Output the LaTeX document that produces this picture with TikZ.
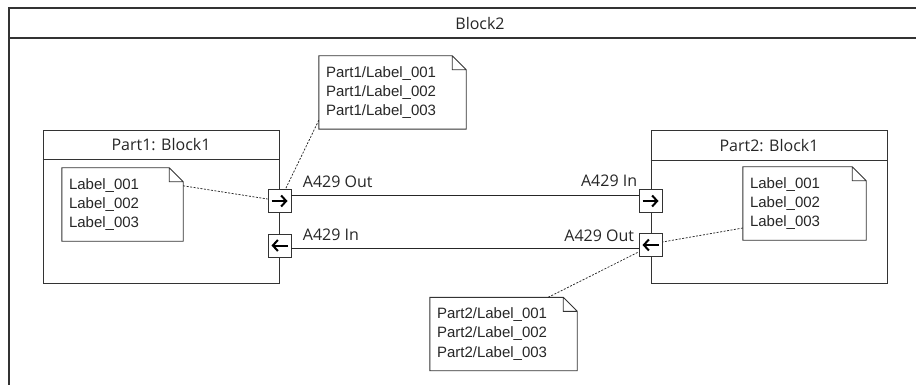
\documentclass[tikz,border=0pt]{standalone}
\usepackage{fontspec}
\setmainfont{Liberation Sans}
\newfontfamily\titlefont{Open Sans}
\usetikzlibrary{arrows.meta, positioning}

% outline of a note with a folded corner
\newcommand{\notefold}[1]{%
  \draw[box] (#1.north west) -- ([xshift=-14pt]#1.north east) -- ([yshift=-14pt]#1.north east)
    -- (#1.south east) -- (#1.south west) -- cycle
    ([xshift=-14pt]#1.north east) |- ([yshift=-14pt]#1.north east);}

\begin{document}
\begin{tikzpicture}[x=1pt, y=-1pt,
    every node/.style={text=black!85},
    box/.style={draw=black!80, line width=0.9pt},
    block/.style={box, minimum width=236pt, minimum height=153pt},
    blocktitle/.style={font=\titlefont\fontsize{16}{19}\selectfont, minimum height=30pt, anchor=north},
    note/.style={font=\fontsize{15}{19.3}\selectfont, align=left, text width=#1,
        minimum height=73pt, inner xsep=7pt, inner ysep=0pt},
    port/.style={box, fill=white, minimum size=23pt, inner sep=0pt},
    portarrow/.style={line width=2pt, -{Straight Barb[length=5pt, width=11pt]}},
    flow/.style={draw=black!85, line width=0.9pt},
    flowlabel/.style={font=\titlefont\fontsize{16}{19}\selectfont, inner sep=0pt},
    link/.style={black!85, line width=0.75pt, dash pattern=on 2pt off 1.5pt}]
    \useasboundingbox (0,0) rectangle (916,385);
    \clip (0,0) rectangle (916,385);

    % Outer block
    \draw[box, line width=1.3pt] (9,8) rectangle (940,400);
    \node[blocktitle, minimum height=30pt] (block2) at (480,8) {Block2};
    \draw[box, line width=1.3pt] (9,38) -- (940,38);

    % Parts
    \node[block] (part1) at (161,206.5) {};
    \node[blocktitle] (part1title) at (part1.north) {Part1: Block1};
    \draw[box] (part1title.south -| part1.west) -- (part1title.south -| part1.east);
    \node[block] (part2) at (769,207) {};
    \node[blocktitle] (part2title) at (part2.north) {Part2: Block1};
    \draw[box] (part2title.south -| part2.west) -- (part2title.south -| part2.east);

    % Notes
    \node[note=107pt] (labels1) at (122.5,204.5) {Label\_001\\Label\_002\\Label\_003};
    \notefold{labels1}
    \node[note=109pt] (labels2) at (804.5,203.5) {Label\_001\\Label\_002\\Label\_003};
    \notefold{labels2}
    \node[note=133pt] (plabels1) at (392.5,92.5) {Part1/Label\_001\\Part1/Label\_002\\Part1/Label\_003};
    \notefold{plabels1}
    \node[note=133pt] (plabels2) at (503.5,334) {Part2/Label\_001\\Part2/Label\_002\\Part2/Label\_003};
    \notefold{plabels2}

    % Ports
    \node[port] (p1out) at (279.5,201) {};
    \node[port] (p1in) at (279.5,245.5) {};
    \node[port] (p2in) at (650.5,201) {};
    \node[port] (p2out) at (650.5,245) {};
    \draw[portarrow] ([xshift=-8pt]p1out.center) -- ([xshift=8pt]p1out.center);
    \draw[portarrow] ([xshift=8pt]p1in.center) -- ([xshift=-8pt]p1in.center);
    \draw[portarrow] ([xshift=-8pt]p2in.center) -- ([xshift=8pt]p2in.center);
    \draw[portarrow] ([xshift=8pt]p2out.center) -- ([xshift=-8pt]p2out.center);

    % Connections
    \draw[flow] ([yshift=6pt]p1out.east) -- ([yshift=6pt]p2in.west)
        node[flowlabel, at start, anchor=base west, xshift=11pt, yshift=8pt] {A429 Out}
        node[flowlabel, at end, anchor=base east, xshift=-1pt, yshift=9pt] {A429 In};
    \draw[flow] ([yshift=-2.5pt]p1in.east) -- ([yshift=-3pt]p2out.west)
        node[flowlabel, at start, anchor=base west, xshift=11pt, yshift=8pt] {A429 In}
        node[flowlabel, at end, anchor=base east, xshift=-4pt, yshift=7pt] {A429 Out};

    % Note links
    \draw[link] ([yshift=-18pt]labels1.north east) -- ([yshift=2pt]p1out.west);
    \draw[link] ([yshift=9pt]plabels1.south west) -- ([xshift=6pt]p1out.north);
    \draw[link] ([yshift=-24.5pt]labels2.west) -- ([yshift=3pt]p2out.east);
    \draw[link] ([xshift=-29pt]plabels2.north east) -- ([yshift=-7pt]p2out.west);
\end{tikzpicture}
\end{document}
